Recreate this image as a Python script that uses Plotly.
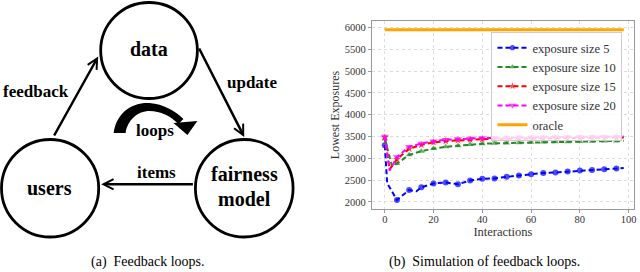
import plotly.graph_objects as go

FONT = "Liberation Serif, Times New Roman, serif"

# ---------------- data ----------------
interactions_5 = [0, 1, 5, 10, 13, 15, 20, 25, 30, 35, 40, 45, 50, 55, 60, 65, 70, 75, 80, 85, 90, 95, 98]
lowest_5 = [3300, 2430, 2045, 2275, 2245, 2335, 2425, 2447, 2407, 2492, 2530, 2540, 2576, 2606,
            2636, 2665, 2675, 2697, 2720, 2735, 2750, 2765, 2780]

interactions_10 = [0, 3, 5, 10, 15, 20, 25, 30, 35, 40, 45, 50, 55, 60, 65, 70, 75, 80, 85, 90, 95, 98]
lowest_10 = [3450, 2820, 2880, 3080, 3165, 3225, 3265, 3290, 3315, 3335, 3345, 3352, 3360, 3368,
             3373, 3378, 3383, 3388, 3392, 3396, 3400, 3402]

interactions_15 = [0, 2, 5, 10, 15, 20, 25, 30, 35, 40, 45, 50, 55, 60, 65, 70, 75, 80, 85, 90, 95, 98]
lowest_15 = [3480, 2750, 2980, 3220, 3310, 3365, 3395, 3415, 3428, 3438, 3445, 3450, 3455, 3460,
             3463, 3466, 3469, 3471, 3473, 3475, 3477, 3478]

interactions_20 = [0, 2, 5, 10, 15, 20, 25, 30, 35, 40, 45, 50, 55, 60, 65, 70, 75, 80, 85, 90, 95, 98]
lowest_20 = [3500, 2720, 3030, 3265, 3340, 3395, 3425, 3445, 3455, 3465, 3472, 3478, 3482, 3485,
             3488, 3490, 3492, 3494, 3496, 3497, 3498, 3500]

oracle_x = [0, 98]
oracle_y = [5950, 5950]

x_ticks = [0, 20, 40, 60, 80, 100]
y_ticks = [2000, 2500, 3000, 3500, 4000, 4500, 5000, 5500, 6000]

# diagram texts
node_labels = ["<b>data</b>", "<b>users</b>", "<b>fairness</b>", "<b>model</b>"]
edge_labels = ["<b>feedback</b>", "<b>update</b>", "<b>items</b>", "<b>loops</b>"]
captions = ["(a)\u00a0\u00a0Feedback loops.", "(b)\u00a0\u00a0Simulation of feedback loops."]

# ---------------- figure ----------------
fig = go.Figure()


def marker_sizes(xs, size):
    return [size if x % 5 == 0 else 0 for x in xs]


series = [
    ("exposure size 5", interactions_5, lowest_5, "#0000ff", "circle", 6),
    ("exposure size 10", interactions_10, lowest_10, "#228b22", "triangle-up", 6),
    ("exposure size 15", interactions_15, lowest_15, "#ff0000", "star", 6),
    ("exposure size 20", interactions_20, lowest_20, "#ff00ff", "triangle-down", 7),
]
for name, xs, ys, color, symbol, ms in series:
    fig.add_trace(go.Scatter(
        x=xs, y=ys, name=name, mode="lines+markers",
        line=dict(color=color, width=2, dash="5px,3px"),
        marker=dict(symbol=symbol, size=marker_sizes(xs, ms), color=color, line=dict(width=0)),
        xaxis="x", yaxis="y",
    ))

fig.add_trace(go.Scatter(
    x=oracle_x, y=oracle_y, name="oracle", mode="lines",
    line=dict(color="#ffa500", width=3), xaxis="x", yaxis="y",
))

axis_common = dict(
    showline=True, mirror=True, linecolor="#999999", linewidth=1,
    ticks="outside", ticklen=3, tickcolor="#999999",
    showgrid=True, gridcolor="#dcdcdc", griddash="dot", gridwidth=1,
    zeroline=False,
    tickfont=dict(family=FONT, size=10.5, color="#333333"),
)

shapes = []
# circles of the diagram (pixel-like units on x2/y2)
for (x0, y0, x1, y1) in [(101, 2.5, 198, 98.5), (1.5, 139.5, 99, 237), (196, 139.5, 294, 237)]:
    shapes.append(dict(type="circle", xref="x2", yref="y2", x0=x0, y0=y0, x1=x1, y1=y1,
                       line=dict(color="black", width=2.8)))
# curved "loops" arrow
shapes.append(dict(type="path", xref="x2", yref="y2",
                   path="M 114,133 C 117,112 133,102 150,103 C 164,104 176,111 184,119 "
                        "L 179,124 C 171,116 161,111 150,111 C 138,111 128,120 126,133 Z",
                   fillcolor="black", line=dict(width=0)))
shapes.append(dict(type="path", xref="x2", yref="y2",
                   path="M 174,123 L 198,121 L 188,135 Z",
                   fillcolor="black", line=dict(width=0)))

annotations = []
# node texts
for txt, (x, y) in zip(node_labels, [(149.5, 49), (50, 188), (245, 174), (245, 199)]):
    annotations.append(dict(text=txt, x=x, y=y, xref="x2", yref="y2", showarrow=False,
                            font=dict(family=FONT, size=20, color="black")))
# edge texts
for txt, (x, y) in zip(edge_labels, [(36.5, 91), (253, 82), (157, 172), (155, 130)]):
    annotations.append(dict(text=txt, x=x, y=y, xref="x2", yref="y2", showarrow=False,
                            font=dict(family=FONT, size=17, color="black")))
# arrows
for (hx, hy, tx, ty) in [(98.5, 56.5, 53.5, 137), (245, 137, 199, 47), (101.5, 184.3, 195, 184.3)]:
    annotations.append(dict(text="", x=hx, y=hy, ax=tx, ay=ty, xref="x2", yref="y2",
                            axref="x2", ayref="y2", showarrow=True, arrowhead=5,
                            arrowsize=0.8, arrowwidth=2.5, arrowcolor="black",
                            standoff=0, startstandoff=0))
# captions
for txt, x in zip(captions, [148 / 640, 486 / 640]):
    annotations.append(dict(text=txt, x=x, y=1 - 262 / 272, xref="paper", yref="paper",
                            showarrow=False, xanchor="center", yanchor="middle",
                            font=dict(family=FONT, size=14, color="black")))

fig.update_layout(
    width=640, height=272, autosize=False,
    margin=dict(l=0, r=0, t=0, b=0),
    paper_bgcolor="white", plot_bgcolor="white",
    font=dict(family=FONT, color="#333333"),
    xaxis=dict(domain=[373 / 640, 636 / 640], range=[-5.3, 102.2], tickvals=x_ticks, anchor="y",
               ticklabelstandoff=-3,
               title=dict(text="Interactions", font=dict(family=FONT, size=12.5, color="#333333"),
                          standoff=0),
               **axis_common),
    yaxis=dict(domain=[1 - 209 / 272, 1 - 21 / 272], range=[1839, 6149], tickvals=y_ticks, anchor="x",
               title=dict(text="Lowest Exposures", font=dict(family=FONT, size=12, color="#333333"),
                          standoff=2),
               **axis_common),
    xaxis2=dict(domain=[0, 0.5], range=[0, 320], visible=False, anchor="y2", fixedrange=True),
    yaxis2=dict(domain=[0, 1], range=[272, 0], visible=False, anchor="x2", fixedrange=True),
    legend=dict(x=493 / 640, xanchor="left", y=1 - 32 / 272, yanchor="top",
                bgcolor="rgba(255,255,255,0.8)", bordercolor="#cccccc", borderwidth=1,
                font=dict(family=FONT, size=12.5, color="#333333"), itemwidth=30,
                tracegroupgap=0),
    shapes=shapes,
    annotations=annotations,
    showlegend=True,
)

fig.write_html("out.html", config={"displayModeBar": False},
               post_script="document.body.style.margin='0px';document.body.style.overflow='hidden';")
